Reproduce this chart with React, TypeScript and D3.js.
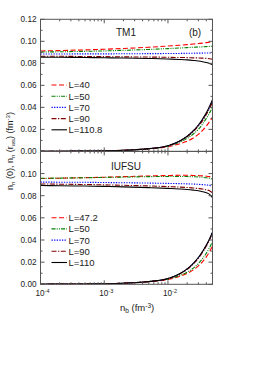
import React from "react";
import * as d3 from "d3";

const nb = [1e-4, 2e-4, 5e-4, 1e-3, 2e-3, 5e-3, 0.01, 0.015, 0.02, 0.025, 0.03, 0.035, 0.04, 0.045, 0.05];

// TM1 panel, n_n(0)
const tmCenter40 = [0.0912, 0.0916, 0.0922, 0.0928, 0.0935, 0.0946, 0.0957, 0.0964, 0.097, 0.0975, 0.098, 0.0984, 0.0988, 0.0992, 0.0996];
const tmCenter50 = [0.0903, 0.0905, 0.0909, 0.0913, 0.0918, 0.0926, 0.0934, 0.0939, 0.0943, 0.0946, 0.0948, 0.095, 0.0952, 0.0954, 0.0955];
const tmCenter70 = [0.0885, 0.0885, 0.0886, 0.0886, 0.0887, 0.0888, 0.0889, 0.089, 0.0891, 0.0892, 0.0893, 0.0893, 0.0894, 0.0894, 0.0895];
const tmCenter90 = [0.0865, 0.0864, 0.0862, 0.0861, 0.0859, 0.0857, 0.0855, 0.0853, 0.0852, 0.085, 0.0849, 0.0847, 0.0845, 0.0842, 0.0838];
const tmCenter110 = [0.0856, 0.0855, 0.0853, 0.0851, 0.0848, 0.0844, 0.0839, 0.0835, 0.0831, 0.0826, 0.0821, 0.0815, 0.0808, 0.0799, 0.0786];
// TM1 panel, n_n(r_ws)
const tmEdge40 = [0.0001, 0.00015, 0.0003, 0.0005, 0.001, 0.0023, 0.0042, 0.0068, 0.0093, 0.0122, 0.0155, 0.019, 0.023, 0.027, 0.031];
const tmEdge50 = [0.0001, 0.00015, 0.0003, 0.0005, 0.001, 0.0024, 0.0048, 0.0082, 0.0118, 0.0158, 0.02, 0.025, 0.03, 0.035, 0.04];
const tmEdge70 = [0.0001, 0.00015, 0.0003, 0.0005, 0.001, 0.0025, 0.0052, 0.0091, 0.0136, 0.0185, 0.0235, 0.029, 0.0345, 0.04, 0.046];
const tmEdge90 = [0.0001, 0.00015, 0.0003, 0.0005, 0.001, 0.0025, 0.0051, 0.009, 0.0133, 0.018, 0.023, 0.028, 0.0335, 0.039, 0.0445];
const tmEdge110 = [0.0001, 0.00015, 0.0003, 0.0005, 0.001, 0.0025, 0.0052, 0.0092, 0.0138, 0.0188, 0.024, 0.0295, 0.035, 0.041, 0.047];

// IUFSU panel, n_n(0)
const iuCenter47 = [0.0955, 0.0958, 0.0963, 0.0967, 0.0972, 0.0978, 0.0982, 0.0984, 0.0984, 0.0983, 0.0981, 0.0979, 0.0976, 0.0972, 0.0966];
const iuCenter50 = [0.0957, 0.0959, 0.0962, 0.0965, 0.0968, 0.0972, 0.0974, 0.0974, 0.0973, 0.0971, 0.0969, 0.0966, 0.0962, 0.0957, 0.095];
const iuCenter70 = [0.0923, 0.0922, 0.0921, 0.0919, 0.0917, 0.0914, 0.0911, 0.0909, 0.0907, 0.0905, 0.0903, 0.09, 0.0897, 0.0893, 0.0886];
const iuCenter90 = [0.0906, 0.0904, 0.0901, 0.0898, 0.0894, 0.0888, 0.0882, 0.0878, 0.0874, 0.087, 0.0865, 0.086, 0.0853, 0.0844, 0.0825];
const iuCenter110 = [0.0892, 0.089, 0.0887, 0.0884, 0.088, 0.0873, 0.0866, 0.0861, 0.0856, 0.085, 0.0844, 0.0836, 0.0826, 0.0812, 0.0782];
// IUFSU panel, n_n(r_ws)
const iuEdge47 = [0.0001, 0.00015, 0.0003, 0.0005, 0.001, 0.0023, 0.0044, 0.0071, 0.0099, 0.013, 0.0166, 0.0205, 0.0248, 0.0295, 0.0345];
const iuEdge50 = [0.0001, 0.00015, 0.0003, 0.0005, 0.001, 0.0024, 0.0047, 0.0078, 0.011, 0.0146, 0.0187, 0.0232, 0.028, 0.0332, 0.0385];
const iuEdge70 = [0.0001, 0.00015, 0.0003, 0.0005, 0.001, 0.0025, 0.0052, 0.0092, 0.0138, 0.0188, 0.024, 0.0296, 0.0352, 0.041, 0.047];
const iuEdge90 = [0.0001, 0.00015, 0.0003, 0.0005, 0.001, 0.0025, 0.0051, 0.009, 0.0135, 0.0184, 0.0235, 0.029, 0.0345, 0.0402, 0.046];
const iuEdge110 = [0.0001, 0.00015, 0.0003, 0.0005, 0.001, 0.0025, 0.0052, 0.0093, 0.0139, 0.019, 0.0242, 0.0298, 0.0355, 0.0412, 0.047];

const tmLabels = ["L=40", "L=50", "L=70", "L=90", "L=110.8"];
const iuLabels = ["L=47.2", "L=50", "L=70", "L=90", "L=110"];
const yTicksTop = [0, 0.02, 0.04, 0.06, 0.08, 0.1, 0.12];
const yTicksBottom = [0, 0.02, 0.04, 0.06, 0.08, 0.1];
const xMajor = [1e-4, 1e-3, 1e-2];
const xMajorExp = ["-4", "-3", "-2"];

const colors = ["#ff0000", "#008000", "#0000ff", "#800000", "#000000"];
const dashes = ["5,2.5", "4,1.2,1,1.2,1,1.2", "1.3,1.3", "5,1.5,1.3,1.5", "none"];

const L = 40.5, R = 212.5, T = 19.3, M = 151.4, B = 284.3;
const font = "Liberation Sans, Arial, sans-serif";
const frame = "#555";

export default function App() {
  const x = d3.scaleLog().domain([1e-4, 0.05]).range([L, R]);
  const yTop = d3.scaleLinear().domain([0, 0.12]).range([M, T]);
  const yBot = d3.scaleLinear().domain([0, 0.12]).range([B, M]);

  const mkLine = (y: d3.ScaleLinear<number, number>) =>
    d3.line<number>().x((_, i) => x(nb[i])).y((d) => y(d)).curve(d3.curveMonotoneX);

  const topSeries = [
    [tmCenter40, tmEdge40],
    [tmCenter50, tmEdge50],
    [tmCenter70, tmEdge70],
    [tmCenter90, tmEdge90],
    [tmCenter110, tmEdge110],
  ];
  const botSeries = [
    [iuCenter47, iuEdge47],
    [iuCenter50, iuEdge50],
    [iuCenter70, iuEdge70],
    [iuCenter90, iuEdge90],
    [iuCenter110, iuEdge110],
  ];

  const minorX: number[] = [];
  for (let e = -4; e <= -2; e++) {
    for (let k = 2; k <= 9; k++) {
      const v = k * Math.pow(10, e);
      if (v <= 0.05) minorX.push(v);
    }
  }
  const minorY = [0.01, 0.03, 0.05, 0.07, 0.09, 0.11];

  const panel = (
    y: d3.ScaleLinear<number, number>,
    top: number,
    bottom: number,
    series: number[][][],
    labels: string[],
    legendY: number,
    yTicks: number[],
    key: string
  ) => {
    const line = mkLine(y);
    return (
      <g key={key}>
        <defs>
          <clipPath id={"clip" + key}>
            <rect x={L} y={top} width={R - L} height={bottom - top} />
          </clipPath>
        </defs>
        <g clipPath={`url(#clip${key})`}>
          {series.map((s, i) =>
            s.map((vals, j) => (
              <path
                key={i + "-" + j}
                d={line(vals) || ""}
                fill="none"
                stroke={colors[i]}
                strokeWidth={1.1}
                strokeDasharray={dashes[i]}
              />
            ))
          )}
        </g>
        <rect x={L} y={top} width={R - L} height={bottom - top} fill="none" stroke={frame} strokeWidth={1} />
        {xMajor.map((v) => (
          <g key={"xm" + v}>
            <line x1={x(v)} x2={x(v)} y1={bottom} y2={bottom - 4} stroke={frame} />
            <line x1={x(v)} x2={x(v)} y1={top} y2={top + 4} stroke={frame} />
          </g>
        ))}
        {minorX.map((v) => (
          <g key={"xn" + v}>
            <line x1={x(v)} x2={x(v)} y1={bottom} y2={bottom - 2} stroke={frame} />
            <line x1={x(v)} x2={x(v)} y1={top} y2={top + 2} stroke={frame} />
          </g>
        ))}
        {yTicksTop.map((v) => (
          <g key={"ym" + v}>
            <line x1={L} x2={L + 4} y1={y(v)} y2={y(v)} stroke={frame} />
            <line x1={R} x2={R - 4} y1={y(v)} y2={y(v)} stroke={frame} />
          </g>
        ))}
        {minorY.map((v) => (
          <g key={"yn" + v}>
            <line x1={L} x2={L + 2} y1={y(v)} y2={y(v)} stroke={frame} />
            <line x1={R} x2={R - 2} y1={y(v)} y2={y(v)} stroke={frame} />
          </g>
        ))}
        {yTicks.map((v) => (
          <text key={"yl" + v} x={L - 4} y={y(v) + 3} textAnchor="end" fontSize={8.2} fontFamily={font} fill="#222">
            {d3.format(".2f")(v)}
          </text>
        ))}
        {labels.map((lab, i) => {
          const ly = legendY + i * 11.2;
          return (
            <g key={"lg" + i}>
              <line x1={51.5} x2={67} y1={ly} y2={ly} stroke={colors[i]} strokeWidth={1.1} strokeDasharray={dashes[i]} />
              <text x={68.5} y={ly + 3.4} fontSize={9.5} fontFamily={font} fill="#222">
                {lab}
              </text>
            </g>
          );
        })}
      </g>
    );
  };

  return (
    <svg width={266} height={380} style={{ position: "absolute", left: 0, top: 0 }}>
      <rect x={0} y={0} width={266} height={380} fill="#fff" />
      {panel(yTop, T, M, topSeries, tmLabels, 85, yTicksTop, "a")}
      {panel(yBot, M, B, botSeries, iuLabels, 217.7, yTicksBottom, "b")}
      <text x={126} y={35.5} textAnchor="middle" fontSize={10} fontFamily={font} fill="#222">TM1</text>
      <text x={195} y={35.5} textAnchor="middle" fontSize={10} fontFamily={font} fill="#222">(b)</text>
      <text x={126} y={169.5} textAnchor="middle" fontSize={10} fontFamily={font} fill="#222">IUFSU</text>
      {xMajor.map((v, i) => (
        <text key={"xl" + v} x={x(v) + 2} y={296} textAnchor="middle" fontSize={8.2} fontFamily={font} fill="#222">
          10<tspan fontSize={5.5} dy={-3}>{xMajorExp[i]}</tspan>
        </text>
      ))}
      <text x={120} y={311} fontSize={9.5} fontFamily={font} fill="#222">
        n<tspan fontSize={6.5} dy={2}>b</tspan>
        <tspan dy={-2}> (fm</tspan>
        <tspan fontSize={6.5} dy={-3.5}>-3</tspan>
        <tspan dy={3.5}>)</tspan>
      </text>
      <text transform="translate(13,151) rotate(-90)" textAnchor="middle" fontSize={9} fontFamily={font} fill="#222">
        n<tspan fontSize={6} dy={2}>n</tspan>
        <tspan dy={-2}> (0), n</tspan>
        <tspan fontSize={6} dy={2}>n</tspan>
        <tspan dy={-2}> (r</tspan>
        <tspan fontSize={6} dy={2}>ws</tspan>
        <tspan dy={-2}>) (fm</tspan>
        <tspan fontSize={6} dy={-3.5}>-3</tspan>
        <tspan dy={3.5}>)</tspan>
      </text>
    </svg>
  );
}
